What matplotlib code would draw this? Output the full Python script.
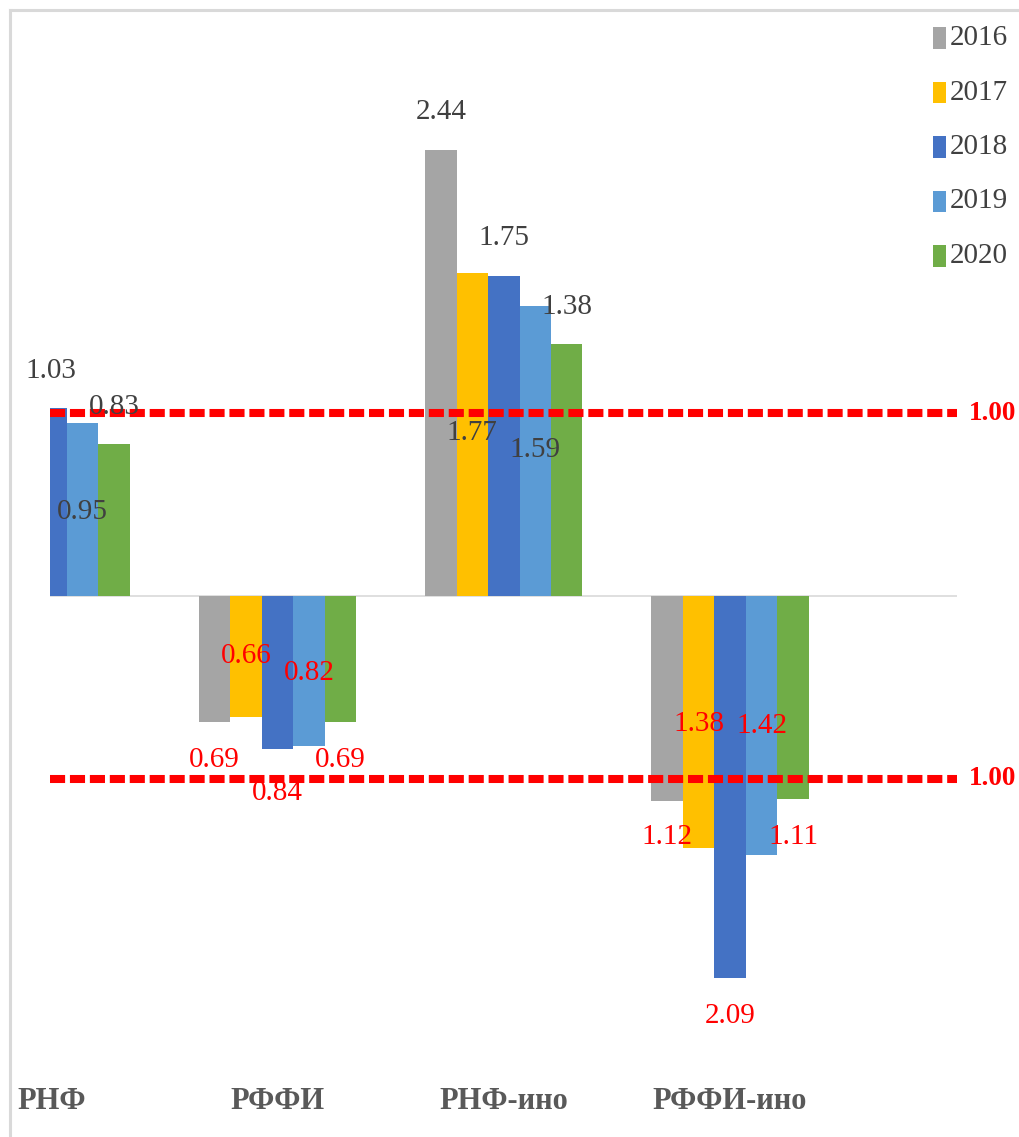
import matplotlib
matplotlib.use('Agg')
import matplotlib.pyplot as plt
import matplotlib.transforms as mtransforms
from matplotlib.lines import Line2D
from matplotlib.patches import Rectangle
import numpy as np

# ---------------- data ----------------
categories = ['РНФ', 'РФФИ', 'РНФ-ино', 'РФФИ-ино']
years = ['2016', '2017', '2018', '2019', '2020']
direction = [1, -1, 1, -1]          # bars drawn upward / downward
v2016 = [np.nan, 0.69, 2.44, 1.12]
v2017 = [np.nan, 0.66, 1.77, 1.38]
v2018 = [1.03, 0.84, 1.75, 2.09]
v2019 = [0.95, 0.82, 1.59, 1.42]
v2020 = [0.83, 0.69, 1.38, 1.11]
series = [v2016, v2017, v2018, v2019, v2020]
threshold = 1.00

# data-label anchor positions (signed, value-axis units)
lab2016 = [np.nan, -0.90, 2.65, -1.32]
lab2017 = [np.nan, -0.33, 0.89, -0.70]
lab2018 = [1.23, -1.08, 1.96, -2.30]
lab2019 = [0.46, -0.42, 0.80, -0.71]
lab2020 = [1.035, -0.90, 1.58, -1.32]
label_pos = [lab2016, lab2017, lab2018, lab2019, lab2020]

colors = ['#A5A5A5', '#FFC000', '#4472C4', '#5B9BD5', '#70AD47']
FONT = ['Liberation Serif', 'DejaVu Serif']
plt.rcParams['font.family'] = FONT

W, H = 1019, 1137
fig = plt.figure(figsize=(W / 100, H / 100), dpi=100)
fig.patch.set_facecolor('white')

ax_top_px, ax_bot_px = 20, 1062
ax = fig.add_axes([50 / W, (H - ax_bot_px) / H, 907 / W, (ax_bot_px - ax_top_px) / H])
zero_px, scale = 596, 182.6
ax.set_ylim(-(ax_bot_px - zero_px) / scale, (zero_px - ax_top_px) / scale)
ax.set_xlim(-0.0053, 4.0027)

w = 0.139
x = np.arange(len(categories))
dirs = np.array(direction, dtype=float)
for j, vals in enumerate(series):
    vals = np.array(vals, dtype=float)
    xs = x + (j - 2) * w
    ax.bar(xs, vals * dirs, width=w, color=colors[j], zorder=2)
    for i in range(len(categories)):
        if np.isnan(vals[i]):
            continue
        col = '#404040' if dirs[i] > 0 else '#FF0000'
        ax.text(xs[i], label_pos[j][i], f'{vals[i]:.2f}', ha='center', va='center',
                fontsize=21, color=col, zorder=5, clip_on=False)

ax.axhline(0, color='#D9D9D9', lw=1.2, zorder=1.5)
for s in (1, -1):
    ax.axhline(s * threshold, color='#FF0000', lw=5.8, ls=(0, (1.875, 0.6)),
               dash_capstyle='butt', zorder=4)

tr = mtransforms.blended_transform_factory(fig.transFigure, ax.transData)
for s in (1, -1):
    ax.text(993 / W, s * threshold, f'{threshold:.2f}', transform=tr, ha='center',
            va='center', fontsize=19.5, fontweight='bold', color='#FF0000', clip_on=False)

for sp in ax.spines.values():
    sp.set_visible(False)
ax.set_yticks([])
ax.set_xticks(x)
ax.set_xticklabels(categories, fontsize=22, fontweight='bold', color='#595959')
ax.tick_params(axis='x', length=0, pad=18)

# legend (manual, Excel-like)
for j, yr in enumerate(years):
    yc = 38 + j * 54.5
    fig.patches.append(Rectangle((933 / W, (H - yc - 10.5) / H), 13 / W, 21 / H,
                                 transform=fig.transFigure, facecolor=colors[j],
                                 edgecolor='none'))
    fig.text(950 / W, (H - yc) / H, yr, ha='left', va='center', fontsize=21,
             color='#404040')

# chart-area border (top and left edges visible)
fig.lines.append(Line2D([10 / W, 1.0], [(H - 10) / H] * 2, transform=fig.transFigure,
                        color='#D9D9D9', lw=2.2))
fig.lines.append(Line2D([10 / W] * 2, [0, (H - 10) / H], transform=fig.transFigure,
                        color='#D9D9D9', lw=2.2))

fig.savefig('out.png', dpi=100, facecolor='white')
